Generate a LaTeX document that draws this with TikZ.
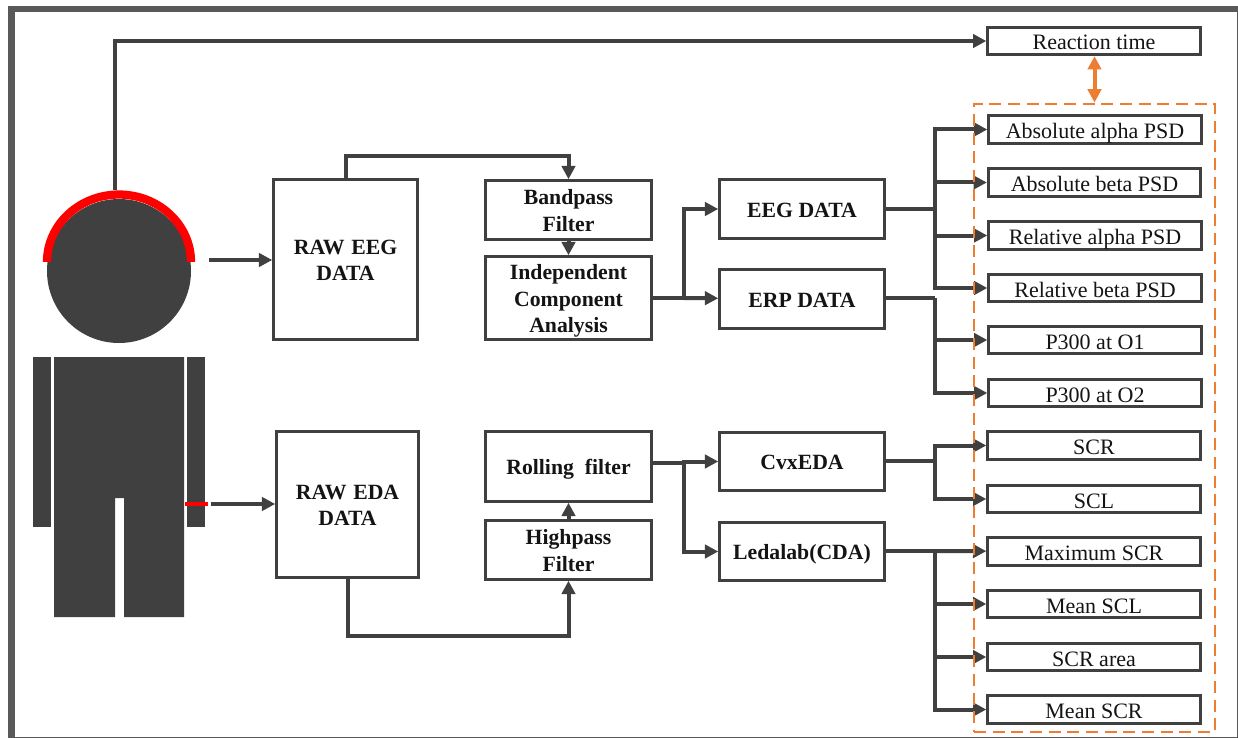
\documentclass[tikz,border=0pt]{standalone}
\usepackage{fontspec}
\setmainfont{Liberation Serif}
\usetikzlibrary{arrows.meta}
\definecolor{dk}{HTML}{404040}
\definecolor{fr}{HTML}{595959}
\definecolor{org}{HTML}{ED7D31}
\definecolor{txt}{HTML}{141414}
\tikzset{
  x=0.75pt,y=-0.75pt,
  plainbox/.style={draw=dk,line width=2.25pt,fill=white,inner sep=0pt,align=center,text=txt},
  boldbox/.style={plainbox,font=\fontsize{16.3}{20}\selectfont\bfseries},
  outbox/.style={plainbox,minimum width=159.25pt,minimum height=20.5pt,text height=13.5pt,text depth=0pt,font=\fontsize{16.5}{19.5}\selectfont},
  conn/.style={draw=dk,line width=3pt,line join=miter},
  arr/.style={conn,-{Triangle[length=10pt,width=10pt]}},
  bodypart/.style={fill=dk,draw=none},
}
\newcommand{\lowered}[1]{\raisebox{-2pt}[\height][\depth]{\begin{tabular}{@{}c@{}}#1\end{tabular}}}
\newcommand{\bbox}[6]{\node[boldbox,minimum width=#3*0.75pt-#2*0.75pt-1.1pt,minimum height=#5*0.75pt-#4*0.75pt-1.1pt] (#1) at ({(#2+#3)/2},{(#4+#5)/2}) {\lowered{#6}};}
\begin{document}
\begin{tikzpicture}
\useasboundingbox (0,0) rectangle (1238,738);
\draw[fr,line width=4.9pt] (11.5,9) rectangle (1240,740.5);
% person
\fill[bodypart] (33,357) rectangle (51,527);
\fill[bodypart] (187,357) rectangle (205,527);
\fill[bodypart] (54,357) -- (184,357) -- (184,617) -- (124,617) -- (124,498) -- (115,498) -- (115,617) -- (54,617) -- cycle;
\node[circle,fill=dk,minimum size=108pt,inner sep=0pt] (head) at (119,271) {};
\draw[red,line width=6.2pt] (47,262) arc[start angle=180,end angle=0,x radius=54pt,y radius=50.6pt];
\coordinate (hat) at (115,190);
\draw[red,line width=3pt] (185,504) -- (208,504);
% process boxes
\bbox{raweeg}{273}{418}{179}{340}{RAW\hspace{1pt} EEG\\DATA}
\bbox{raweda}{276}{419}{431}{578}{RAW\hspace{1pt} EDA\\DATA}
\bbox{band}{485}{652}{180}{240}{Bandpass\\Filter}
\bbox{ica}{485}{652}{256}{340}{Independent\\Component\\Analysis}
\bbox{eeg}{719}{885}{179}{239}{EEG DATA}
\bbox{erp}{719}{885}{269}{329}{ERP DATA}
\bbox{roll}{485}{652}{431}{502}{Rolling\ \ filter}
\bbox{high}{485}{652}{520}{580}{Highpass\\Filter}
\bbox{cvx}{719}{885}{432}{491}{CvxEDA}
\bbox{led}{719}{885}{522}{581}{Ledalab(CDA)}
% outputs
\node[outbox] (rt) at (1094,41) {Reaction time};
\node[outbox] (aa) at (1095,129.5) {Absolute alpha PSD};
\node[outbox] (ab) at (1094.5,182.5) {Absolute beta PSD};
\node[outbox] (ra) at (1095,235.5) {Relative alpha PSD};
\node[outbox] (rb) at (1095,288) {Relative beta PSD};
\node[outbox] (o1) at (1095,340) {P300 at O1};
\node[outbox] (o2) at (1095,393) {P300 at O2};
\node[outbox] (scr) at (1094,445.5) {SCR};
\node[outbox] (scl) at (1094,499) {SCL};
\node[outbox] (mx) at (1094,551.5) {Maximum SCR};
\node[outbox] (ms) at (1094,604) {Mean SCL};
\node[outbox] (ar) at (1094,657) {SCR area};
\node[outbox] (mr) at (1094,709.5) {Mean SCR};
% connectors
\coordinate (in1) at (209,260);
\coordinate (in2) at (211,504);
\coordinate (e1) at (346,179);
\coordinate (e1b) at (346,156);
\coordinate (e2) at (348,578);
\coordinate (e2b) at (348,636);
\coordinate (j1) at (684,298);
\coordinate (j2) at (684,463);
\coordinate (b1) at (935,208.5);
\coordinate (b2) at (935,298);
\coordinate (b3) at (935,461);
\coordinate (b4) at (935,551);
\draw[arr] (hat) |- (rt);
\draw[arr] (in1) -- (raweeg.west |- in1);
\draw[arr] (in2) -- (raweda.west |- in2);
\draw[arr] (e1) -- (e1b) -| (band.north);
\draw[arr] (band) -- (ica);
\draw[arr] (e2) -- (e2b) -| (high.south);
\draw[arr] (high) -- (roll);
\draw[conn] (ica.east |- j1) -- (j1);
\draw[arr] (j1) |- (eeg);
\draw[arr] (j1) -- (erp);
\draw[conn] (roll.east |- j2) -- (j2);
\draw[arr] (j2) |- (cvx);
\draw[arr] (j2) |- (led);
\draw[conn] (eeg.east |- b1) -- (b1);
\draw[arr] (b1) |- (aa);
\draw[arr] (b1) |- (ab);
\draw[arr] (b1) |- (ra);
\draw[arr] (b1) |- (rb);
\draw[conn] (erp.east |- b2) -- (b2);
\draw[arr] (b2) |- (o1);
\draw[arr] (b2) |- (o2);
\draw[conn] (cvx.east |- b3) -- (b3);
\draw[arr] (b3) |- (scr);
\draw[arr] (b3) |- (scl);
\draw[conn] (led.east |- b4) -- (b4);
\draw[arr] (b4) -- (mx);
\draw[arr] (b4) |- (ms);
\draw[arr] (b4) |- (ar);
\draw[arr] (b4) |- (mr);
% dashed group
\node[draw=org,line width=2.2pt,dash pattern=on 9pt off 5pt,fill=none,minimum width=180.75pt,minimum height=471pt,inner sep=0pt] (group) at (1094.5,418) {};
\draw[org,line width=3pt,{Triangle[length=10pt,width=10pt]}-{Triangle[length=10pt,width=10pt]}] (rt.south -| group.north) -- (group.north);
\end{tikzpicture}
\end{document}
